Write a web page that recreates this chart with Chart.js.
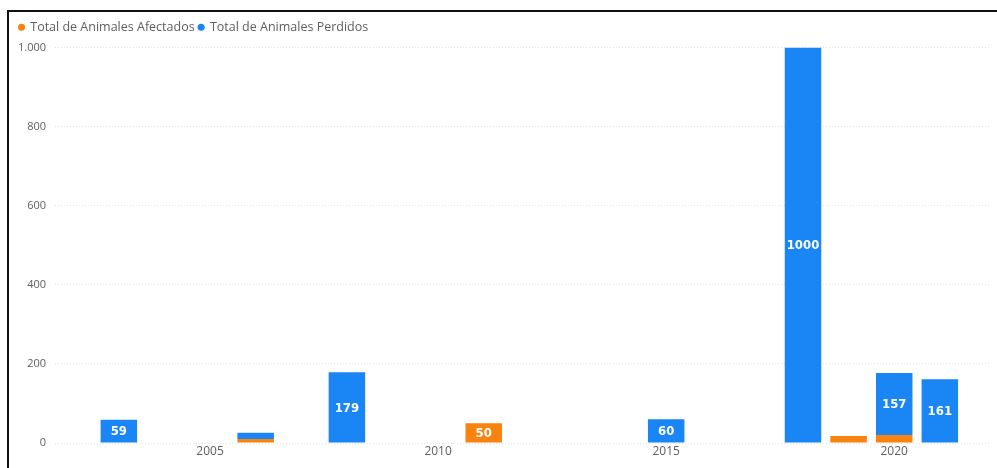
<!DOCTYPE html>
<html>
<head>
<meta charset="utf-8">
<script src="https://cdn.jsdelivr.net/npm/chart.js@4.4.1/dist/chart.umd.min.js"></script>
<style>
  html, body { margin: 0; padding: 0; background: #fff; }
  #wrap { position: relative; width: 997px; height: 468px; overflow: hidden; }
  #c { position: absolute; left: 0; top: 0; }
  .bt { position: absolute; left: 7px; top: 10px; width: 990px; height: 2px; background: #111; }
  .bl { position: absolute; left: 7px; top: 10px; width: 2px; height: 458px; background: #111; }
</style>
</head>
<body>
<div id="wrap">
  <canvas id="c" width="997" height="468"></canvas>
  <div class="bt"></div>
  <div class="bl"></div>
</div>
<script>
const years = [2003, 2006, 2008, 2011, 2015, 2018, 2019, 2020, 2021];
const afectados = [null, 10, null, 50, null, null, 18, 20, null];
const perdidos = [59, 16, 179, null, 60, 1000, null, 157, 161];
const yTicks = [0, 200, 400, 600, 800, 1000];
const xTicks = [2005, 2010, 2015, 2020];
const seriesNames = ['Total de Animales Afectados', 'Total de Animales Perdidos'];

const ORANGE = '#F8830E';
const BLUE = '#1A86F5';
const FONT = '"Open Sans", "Noto Sans", sans-serif';

const labelPlugin = {
  id: 'barLabels',
  afterDatasetsDraw(chart) {
    const ctx = chart.ctx;
    ctx.save();
    ctx.font = 'bold 13px "Liberation Sans Narrow", "DejaVu Sans Condensed", sans-serif';
    ctx.fillStyle = '#ffffff';
    ctx.textAlign = 'center';
    ctx.textBaseline = 'middle';
    chart.data.datasets.forEach((ds, di) => {
      const meta = chart.getDatasetMeta(di);
      meta.data.forEach((bar, i) => {
        const v = ds.data[i] ? ds.data[i].y : null;
        if (v == null) return;
        const h = Math.abs(bar.base - bar.y);
        if (h < 15) return;
        ctx.fillText(String(v), bar.x, (bar.y + bar.base) / 2 + 1);
      });
    });
    ctx.restore();
  }
};

const legendSpacer = {
  id: 'legendSpacer',
  beforeInit(chart) {
    const origFit = chart.legend.fit;
    chart.legend.fit = function () {
      origFit.call(this);
      this.height += 4;
    };
  }
};

new Chart(document.getElementById('c'), {
  type: 'bar',
  data: {
    datasets: [
      {
        label: seriesNames[0],
        data: years.map((y, i) => ({ x: y, y: afectados[i] })),
        backgroundColor: ORANGE,
        categoryPercentage: 0.8,
        barPercentage: 1.0
      },
      {
        label: seriesNames[1],
        data: years.map((y, i) => ({ x: y, y: perdidos[i] })),
        backgroundColor: BLUE,
        categoryPercentage: 0.8,
        barPercentage: 1.0
      }
    ]
  },
  options: {
    responsive: false,
    animation: false,
    layout: { padding: { left: 15, right: 7, top: 17, bottom: 0 } },
    plugins: {
      legend: {
        position: 'top',
        align: 'start',
        labels: {
          usePointStyle: true,
          pointStyle: 'circle',
          boxWidth: 5,
          boxHeight: 5,
          padding: 4,
          color: '#605E5C',
          font: { family: FONT, size: 12.5 }
        }
      },
      tooltip: { enabled: false }
    },
    scales: {
      x: {
        type: 'linear',
        stacked: true,
        offset: false,
        min: 2001.6,
        max: 2022.1,
        afterBuildTicks: (s) => { s.ticks = xTicks.map(v => ({ value: v })); },
        ticks: {
          color: '#605E5C',
          font: { family: FONT, size: 12 },
          padding: 1,
          callback: (v) => String(v)
        },
        grid: { display: false, drawTicks: false, offset: false },
        border: { display: false },
        afterFit: (s) => { s.height = 25; }
      },
      y: {
        stacked: true,
        min: 0,
        max: 1000,
        afterBuildTicks: (s) => { s.ticks = yTicks.map(v => ({ value: v })); },
        ticks: {
          color: '#605E5C',
          font: { family: FONT, size: 11 },
          padding: 9,
          callback: (v) => v.toLocaleString('es-ES', { useGrouping: true }).replace(/\s/g, '.').replace(/^(\d)(\d{3})$/, '$1.$2')
        },
        grid: { color: '#E4E4E4', lineWidth: 1, drawTicks: false },
        border: { display: false, dash: [1, 2] },
        afterFit: (s) => { s.width = 40; }
      }
    }
  },
  plugins: [labelPlugin, legendSpacer]
});
</script>
</body>
</html>
